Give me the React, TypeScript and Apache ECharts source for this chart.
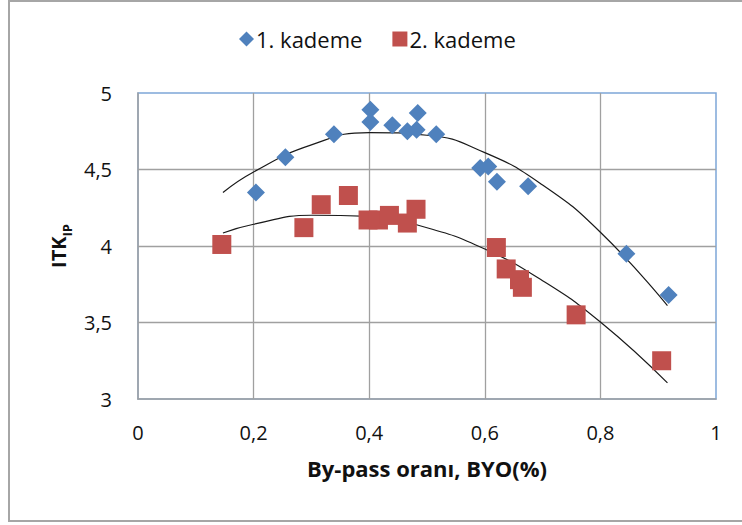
import React, { useEffect, useRef } from "react";
import * as echarts from "echarts";

const series1Name = "1. kademe";
const series2Name = "2. kademe";

const s1X = [0.204, 0.255, 0.339, 0.402, 0.402, 0.44, 0.466, 0.484, 0.482, 0.516, 0.592, 0.606, 0.621, 0.675, 0.845, 0.918];
const s1Y = [4.35, 4.58, 4.73, 4.89, 4.81, 4.79, 4.75, 4.87, 4.76, 4.73, 4.51, 4.52, 4.42, 4.39, 3.95, 3.68];

const s2X = [0.145, 0.287, 0.317, 0.364, 0.398, 0.416, 0.435, 0.466, 0.481, 0.62, 0.637, 0.66, 0.665, 0.758, 0.906];
const s2Y = [4.01, 4.12, 4.27, 4.33, 4.17, 4.17, 4.2, 4.15, 4.24, 3.99, 3.85, 3.78, 3.73, 3.55, 3.25];

// trend curves
const t1X = [0.147, 0.2, 0.3, 0.4, 0.5, 0.6, 0.7, 0.8, 0.916];
const t1Y = [4.35, 4.484, 4.661, 4.741, 4.724, 4.61, 4.399, 4.09, 3.61];
const t2X = [0.147, 0.2, 0.3, 0.4, 0.5, 0.6, 0.7, 0.8, 0.916];
const t2Y = [4.085, 4.142, 4.201, 4.193, 4.119, 3.98, 3.773, 3.503, 3.105];

const xTicks = { min: 0, max: 1, interval: 0.2 };
const yTicks = { min: 3, max: 5, interval: 0.5 };

const zip = (xs: number[], ys: number[]) => xs.map((x, i) => [x, ys[i]]);
const fmt = (v: number) => String(+v.toFixed(2)).replace(".", ",");

const FONT = "Open Sans";

export default function App() {
  const ref = useRef<HTMLDivElement>(null);
  useEffect(() => {
    if (!ref.current) return;
    const chart = echarts.init(ref.current, null, { renderer: "svg" });
    chart.setOption({
      animation: false,
      backgroundColor: "#ffffff",
      textStyle: { fontFamily: FONT },
      graphic: [
        {
          type: "rect",
          shape: { x: 9, y: 1, width: 760, height: 520 },
          style: { fill: "none", stroke: "#a6a6a6", lineWidth: 2 },
          silent: true,
        },
      ],
      legend: {
        left: 239,
        top: 28,
        padding: 0,
        itemGap: 30,
        itemWidth: 15,
        itemHeight: 15,
        textStyle: { fontFamily: FONT, fontSize: 22, color: "#111", padding: [0, 0, 0, -3] },
        data: [
          { name: series1Name, icon: "diamond" },
          { name: series2Name, icon: "rect" },
        ],
      },
      grid: {
        left: 138,
        top: 93,
        width: 578,
        height: 306,
        show: true,
        borderColor: "#7EA6D8",
        borderWidth: 1.5,
        backgroundColor: "transparent",
      },
      xAxis: {
        type: "value",
        min: xTicks.min,
        max: xTicks.max,
        interval: xTicks.interval,
        name: "By-pass oranı, BYO(%)",
        nameLocation: "middle",
        nameGap: 58,
        nameTextStyle: { fontFamily: FONT, fontSize: 22, fontWeight: "bold", color: "#111" },
        axisLine: { show: true, onZero: false, lineStyle: { color: "#a0a0a0", width: 1.5 } },
        axisTick: { show: false },
        axisLabel: { margin: 23, fontSize: 20, color: "#111", fontFamily: FONT, formatter: fmt },
        splitLine: { show: true, showMinLine: false, showMaxLine: false, lineStyle: { color: "#a0a0a0", width: 1.3 } },
      },
      yAxis: {
        type: "value",
        min: yTicks.min,
        max: yTicks.max,
        interval: yTicks.interval,
        name: "{a|ITK}{s|IP}",
        nameLocation: "middle",
        nameGap: 66,
        nameRotate: 90,
        nameTextStyle: {
          rich: {
            a: { fontFamily: FONT, fontSize: 20, fontWeight: "bold", color: "#111", lineHeight: 26, verticalAlign: "bottom" },
            s: { fontFamily: FONT, fontSize: 13, fontWeight: "bold", color: "#111", lineHeight: 26, verticalAlign: "bottom", padding: [0, 0, -5, 0] },
          },
        },
        axisLine: { show: true, lineStyle: { color: "#a0a0a0", width: 1.5 } },
        axisTick: { show: false },
        axisLabel: { margin: 26, fontSize: 20, color: "#111", fontFamily: FONT, formatter: fmt },
        splitLine: { show: true, showMinLine: false, showMaxLine: false, lineStyle: { color: "#a0a0a0", width: 1.3 } },
      },
      series: [
        {
          name: "trend1",
          type: "line",
          data: zip(t1X, t1Y),
          smooth: true,
          showSymbol: false,
          symbol: "none",
          lineStyle: { color: "#1a1a1a", width: 1.2 },
          z: 1,
          silent: true,
        },
        {
          name: "trend2",
          type: "line",
          data: zip(t2X, t2Y),
          smooth: true,
          showSymbol: false,
          symbol: "none",
          lineStyle: { color: "#1a1a1a", width: 1.2 },
          z: 1,
          silent: true,
        },
        {
          name: series1Name,
          type: "scatter",
          symbol: "diamond",
          symbolSize: 18,
          data: zip(s1X, s1Y),
          itemStyle: { color: "#4F81BD", opacity: 1 },
          z: 3,
        },
        {
          name: series2Name,
          type: "scatter",
          symbol: "rect",
          symbolSize: 19,
          data: zip(s2X, s2Y),
          itemStyle: { color: "#C0504D", opacity: 1 },
          z: 2,
        },
      ],
    });
    return () => chart.dispose();
  }, []);
  return (
    <div
      ref={ref}
      style={{ position: "absolute", left: 0, top: 0, width: 742, height: 525 }}
    />
  );
}
